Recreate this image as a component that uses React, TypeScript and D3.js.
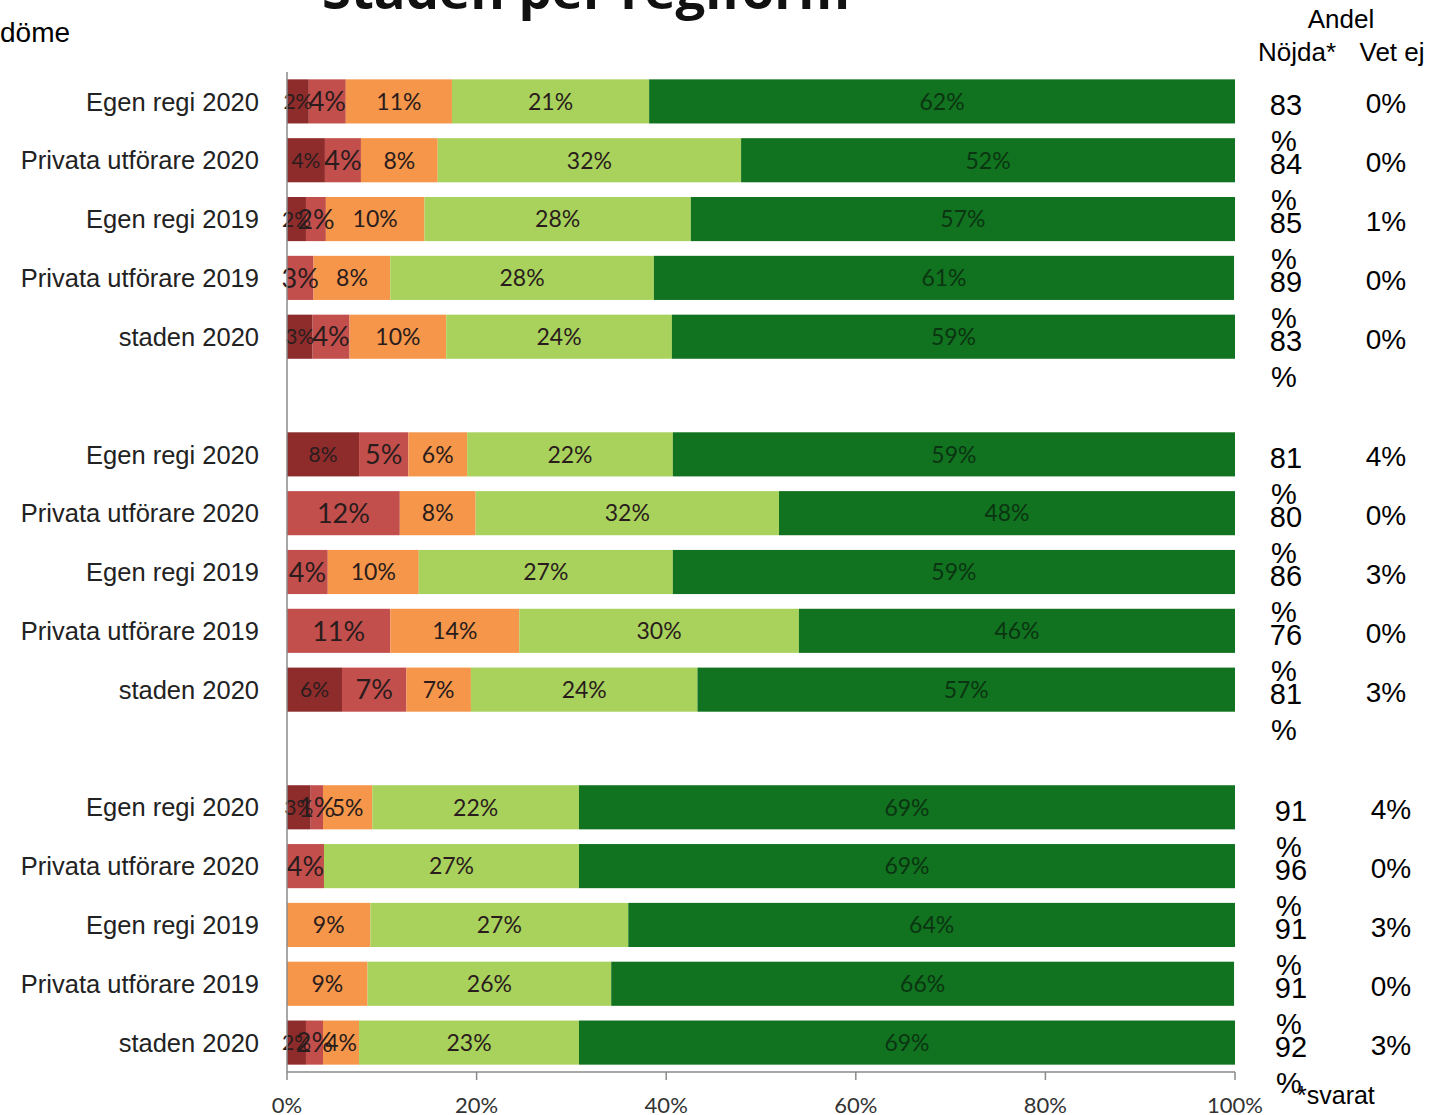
import React from "react";
import * as d3 from "d3";

const categories = [
  "Egen regi 2020", "Privata utförare 2020", "Egen regi 2019", "Privata utförare 2019", "staden 2020",
  "",
  "Egen regi 2020", "Privata utförare 2020", "Egen regi 2019", "Privata utförare 2019", "staden 2020",
  "",
  "Egen regi 2020", "Privata utförare 2020", "Egen regi 2019", "Privata utförare 2019", "staden 2020",
];

const darkRed = [2.3, 4.0, 2.0, 0, 2.7, 0, 7.6, 0, 0, 0, 5.8, 0, 2.5, 0, 0, 0, 2.0];
const red = [3.9, 3.8, 2.1, 2.8, 3.9, 0, 5.2, 11.9, 4.3, 10.9, 6.8, 0, 1.3, 3.9, 0, 0, 1.8];
const orange = [11.2, 8.1, 10.4, 8.1, 10.2, 0, 6.2, 8.0, 9.6, 13.6, 6.8, 0, 5.2, 0, 8.8, 8.5, 3.8];
const lightGreen = [20.8, 32.0, 28.1, 27.8, 23.8, 0, 21.7, 32.0, 26.8, 29.5, 23.9, 0, 21.8, 26.9, 27.2, 25.7, 23.2];
const darkGreen = [61.8, 52.1, 57.4, 61.2, 59.4, 0, 59.3, 48.1, 59.3, 46.0, 56.7, 0, 69.2, 69.2, 64.0, 65.7, 69.2];

const nojda = ["83", "84", "85", "89", "83", "", "81", "80", "86", "76", "81", "", "91", "96", "91", "91", "92"];
const vetEj = ["0%", "0%", "1%", "0%", "0%", "", "4%", "0%", "3%", "0%", "3%", "", "4%", "0%", "3%", "0%", "3%"];

const xTicks = [0, 20, 40, 60, 80, 100];

const seriesKeys = ["darkRed", "red", "orange", "lightGreen", "darkGreen"];
const seriesColors: Record<string, string> = {
  darkRed: "#8e2c2c",
  red: "#c24f4c",
  orange: "#f5964a",
  lightGreen: "#a8d25c",
  darkGreen: "#11721f",
};
const labelSize: Record<string, number> = {
  darkRed: 21,
  red: 27,
  orange: 23,
  lightGreen: 23,
  darkGreen: 23,
};

export default function App() {
  const W = 1439, H = 1115;
  const x0 = 287, x1 = 1235, yTop = 72, yBot = 1072;

  const rows = categories.map((c, i) => ({
    idx: String(i),
    cat: c,
    darkRed: darkRed[i],
    red: red[i],
    orange: orange[i],
    lightGreen: lightGreen[i],
    darkGreen: darkGreen[i],
  }));

  const x = d3.scaleLinear().domain([0, 100]).range([x0, x1]);
  const y = d3.scaleBand<string>().domain(rows.map((r) => r.idx)).range([yTop, yBot]).paddingInner(0.25).paddingOuter(0.125);
  const stack = d3.stack<any>().keys(seriesKeys);
  const stacked = stack(rows);
  const font = "'Liberation Sans', Arial, sans-serif";
  const labelFont = "Lato, sans-serif";
  const arial = "'Liberation Sans', Arial, sans-serif";

  return (
    <svg width={W} height={H} style={{ position: "absolute", left: 0, top: 0, background: "#fff" }}>
      <text x={586} y={9} textAnchor="middle" fontFamily="'Open Sans', sans-serif" fontWeight="bold" fontSize={50} textLength={528} lengthAdjust="spacingAndGlyphs" fill="#111">
        Staden per regiform
      </text>
      <text x={0} y={42} fontFamily={arial} fontSize={28} fill="#000">döme</text>

      {stacked.map((s) => (
        <g key={s.key}>
          {s.map((d, i) => {
            const w = x(d[1]) - x(d[0]);
            if (w <= 0) return null;
            const yy = y(String(i))!;
            return (
              <rect key={i} x={x(d[0])} y={yy} width={w} height={y.bandwidth()} fill={seriesColors[s.key]} />
            );
          })}
        </g>
      ))}
      {stacked.map((s) => (
        <g key={"l" + s.key}>
          {s.map((d, i) => {
            const v = d[1] - d[0];
            if (v <= 0) return null;
            const yy = y(String(i))! + y.bandwidth() / 2;
            return (
              <text key={i} x={(x(d[0]) + x(d[1])) / 2} y={yy} dy="0.36em" textAnchor="middle" fontFamily={labelFont}
                fontSize={labelSize[s.key]} fill={s.key === "darkGreen" ? "#0b3512" : "#2a1c1c"}>
                {Math.round(v) + "%"}
              </text>
            );
          })}
        </g>
      ))}

      {rows.map((r) => (
        <text key={"c" + r.idx} x={259} y={y(r.idx)! + y.bandwidth() / 2} dy="0.36em" textAnchor="end" fontFamily={font} fontSize={25.5} fill="#222">
          {r.cat}
        </text>
      ))}

      <line x1={x0} x2={x0} y1={yTop} y2={yBot} stroke="#8a8a8a" strokeWidth={1.5} />
      <line x1={x0} x2={x1} y1={yBot} y2={yBot} stroke="#8a8a8a" strokeWidth={1.5} />
      {xTicks.map((t) => (
        <g key={"t" + t}>
          <line x1={x(t)} x2={x(t)} y1={yBot} y2={yBot + 8} stroke="#8a8a8a" strokeWidth={1.5} />
          <text x={x(t)} y={1113} textAnchor="middle" fontFamily={labelFont} fontSize={22} fill="#333">{t + "%"}</text>
        </g>
      ))}

      <text x={1341} y={28} textAnchor="middle" fontFamily={arial} fontSize={26} fill="#000">Andel</text>
      <text x={1297} y={61} textAnchor="middle" fontFamily={arial} fontSize={26} fill="#000">Nöjda*</text>
      <text x={1392} y={61} textAnchor="middle" fontFamily={arial} fontSize={26} fill="#000">Vet ej</text>

      {rows.map((r, i) => {
        if (!nojda[i]) return null;
        const cy = y(r.idx)! + y.bandwidth() / 2;
        const gi = i < 6 ? 0 : i < 12 ? 1 : 2;
        const nx = [1286, 1286, 1291][gi];
        const vx = [1386, 1386, 1391][gi];
        return (
          <g key={"n" + i}>
            <text x={nx} y={cy + 14} textAnchor="middle" fontFamily={arial} fontSize={29} fill="#000">{nojda[i]}</text>
            <text x={nx - 2} y={cy + 50} textAnchor="middle" fontFamily={arial} fontSize={29} fill="#000">%</text>
            <text x={vx} y={cy + 12} textAnchor="middle" fontFamily={arial} fontSize={28} fill="#000">{vetEj[i]}</text>
          </g>
        );
      })}
      <text x={1297} y={1104} fontFamily={arial} fontSize={25} fill="#000">*svarat</text>
    </svg>
  );
}
